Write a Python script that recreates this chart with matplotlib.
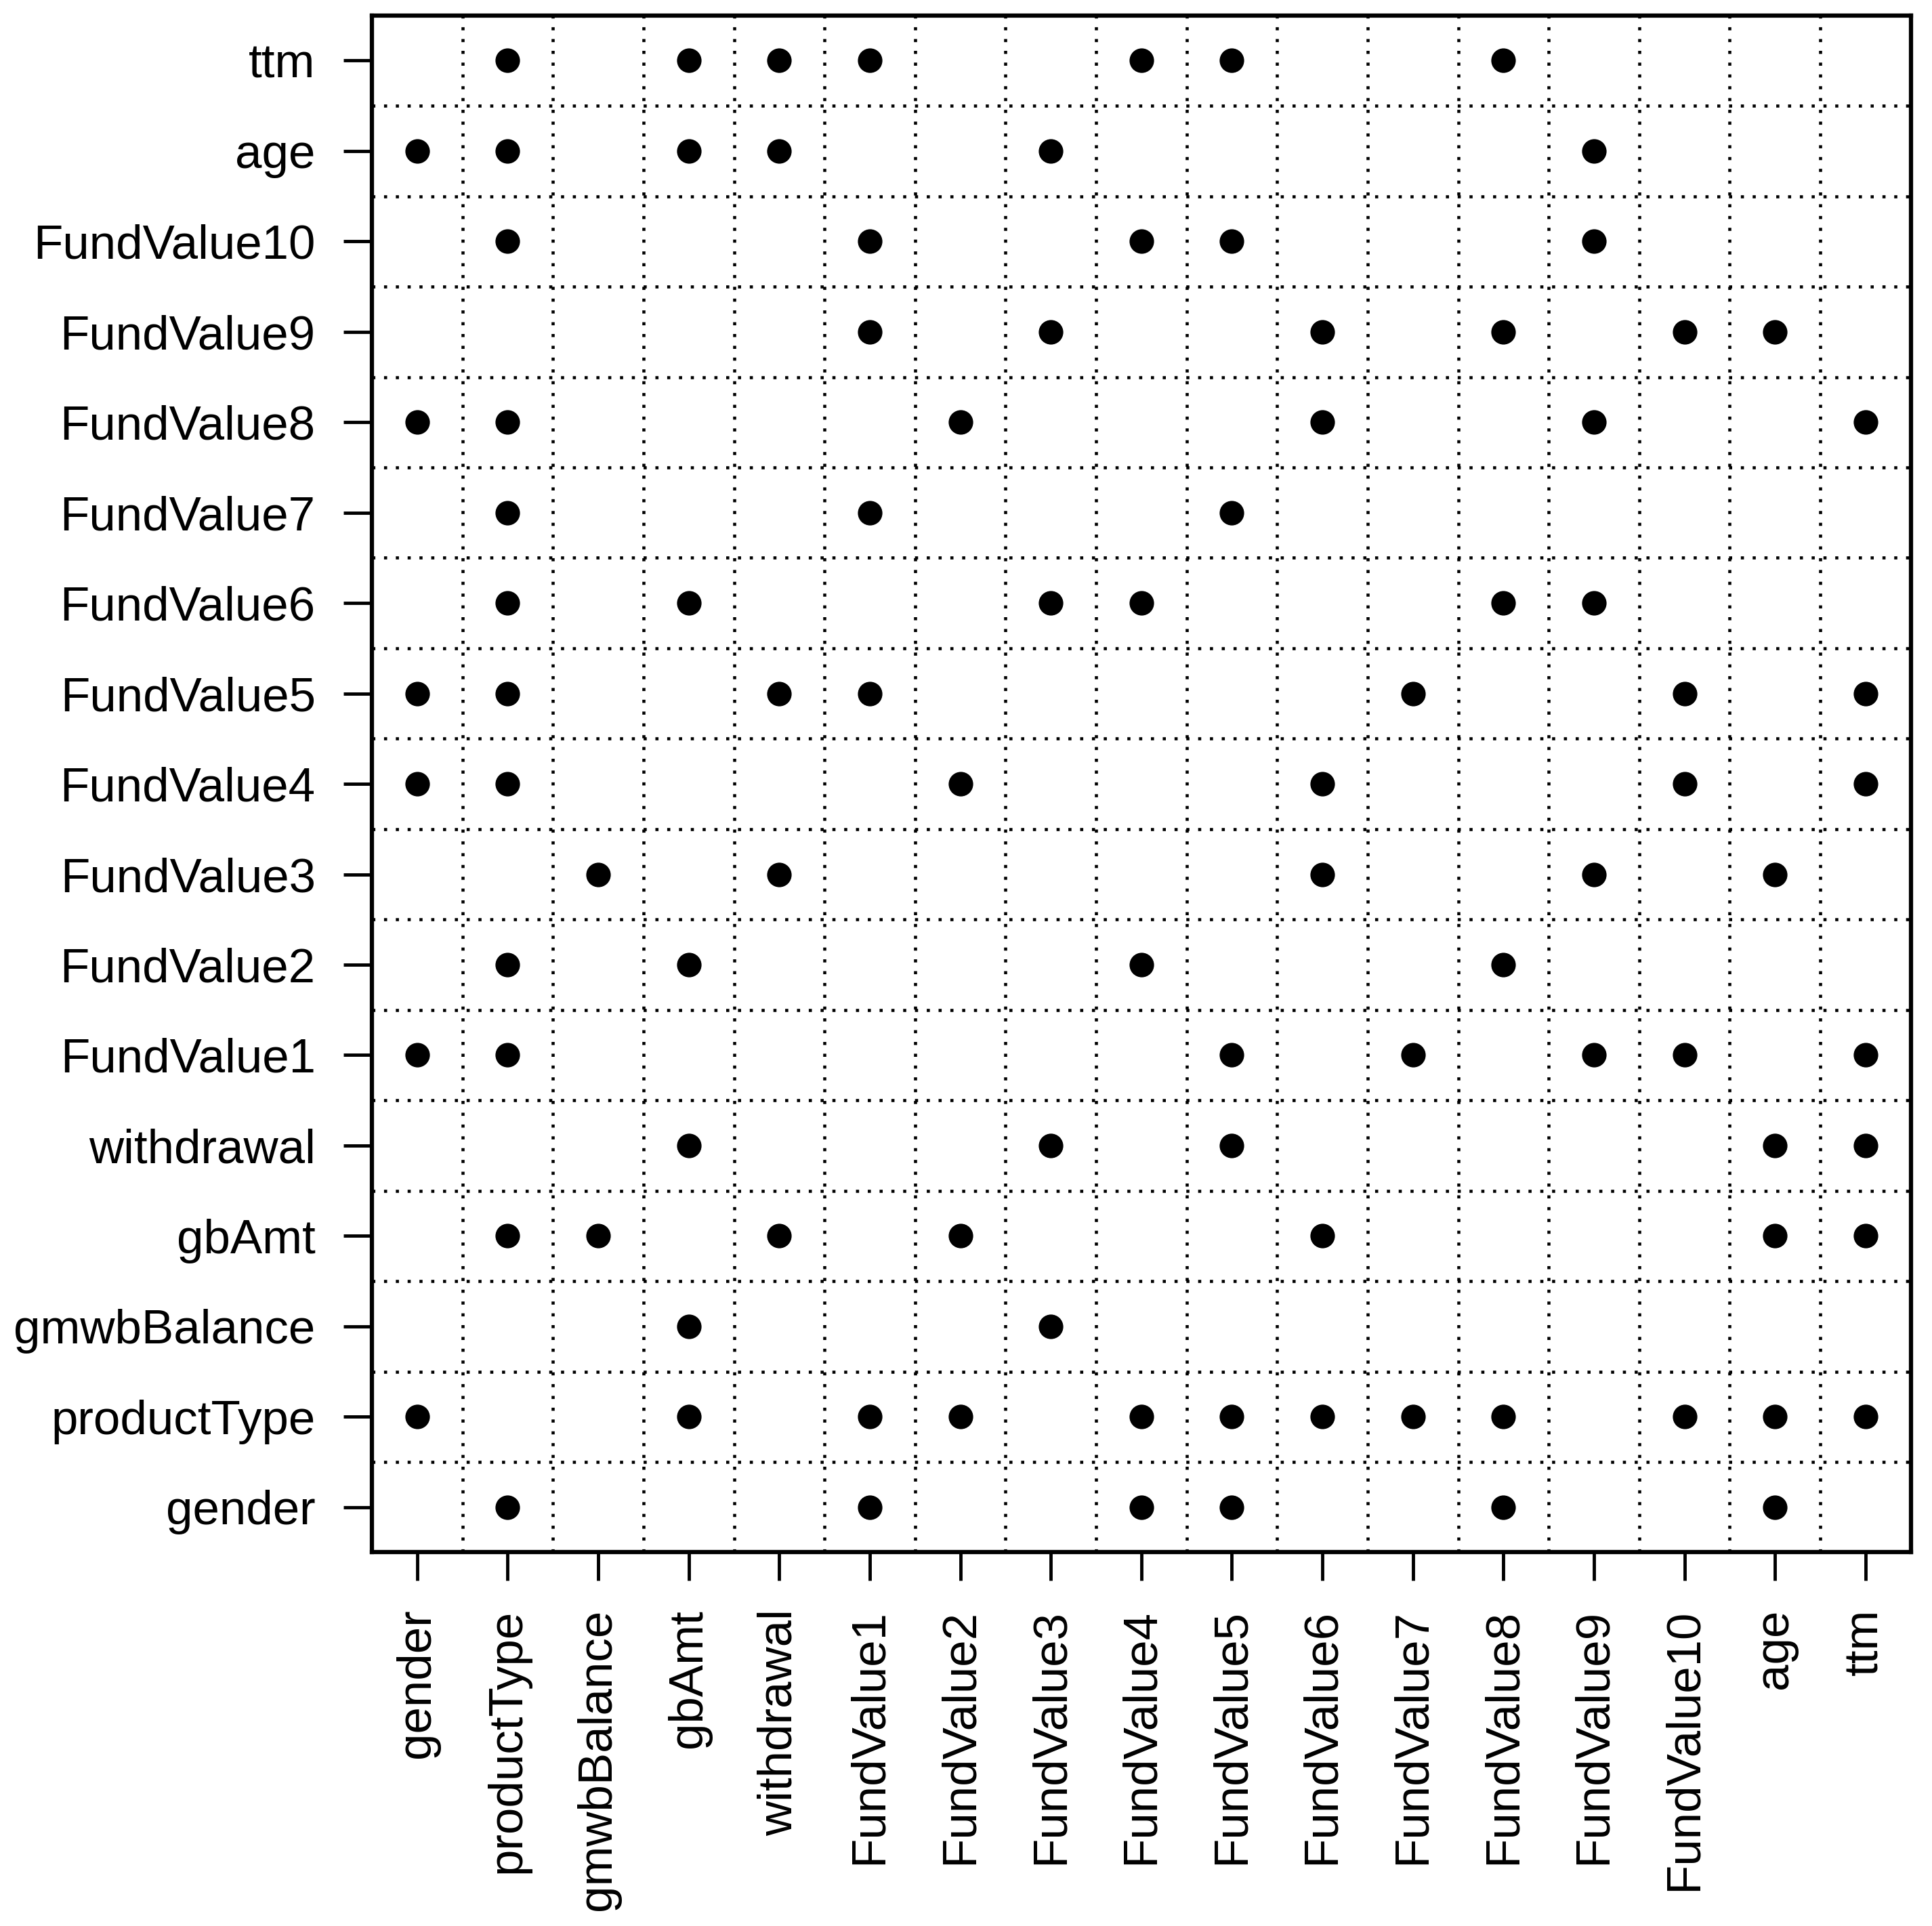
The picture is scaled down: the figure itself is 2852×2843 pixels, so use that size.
import matplotlib
matplotlib.use("Agg")
from matplotlib import pyplot as plt
import numpy as np

plt.rcParams['font.family'] = ['Liberation Sans', 'DejaVu Sans']

variables = ['gender', 'productType', 'gmwbBalance', 'gbAmt', 'withdrawal',
             'FundValue1', 'FundValue2', 'FundValue3', 'FundValue4', 'FundValue5',
             'FundValue6', 'FundValue7', 'FundValue8', 'FundValue9', 'FundValue10',
             'age', 'ttm']

# for each row variable, the column variables that carry a dot
links = {
    'gender': ['productType', 'FundValue1', 'FundValue4', 'FundValue5', 'FundValue8', 'age'],
    'productType': ['gender', 'gbAmt', 'FundValue1', 'FundValue2', 'FundValue4', 'FundValue5',
                    'FundValue6', 'FundValue7', 'FundValue8', 'FundValue10', 'age', 'ttm'],
    'gmwbBalance': ['gbAmt', 'FundValue3'],
    'gbAmt': ['productType', 'gmwbBalance', 'withdrawal', 'FundValue2', 'FundValue6', 'age', 'ttm'],
    'withdrawal': ['gbAmt', 'FundValue3', 'FundValue5', 'age', 'ttm'],
    'FundValue1': ['gender', 'productType', 'FundValue5', 'FundValue7', 'FundValue9',
                   'FundValue10', 'ttm'],
    'FundValue2': ['productType', 'gbAmt', 'FundValue4', 'FundValue8'],
    'FundValue3': ['gmwbBalance', 'withdrawal', 'FundValue6', 'FundValue9', 'age'],
    'FundValue4': ['gender', 'productType', 'FundValue2', 'FundValue6', 'FundValue10', 'ttm'],
    'FundValue5': ['gender', 'productType', 'withdrawal', 'FundValue1', 'FundValue7',
                   'FundValue10', 'ttm'],
    'FundValue6': ['productType', 'gbAmt', 'FundValue3', 'FundValue4', 'FundValue8', 'FundValue9'],
    'FundValue7': ['productType', 'FundValue1', 'FundValue5'],
    'FundValue8': ['gender', 'productType', 'FundValue2', 'FundValue6', 'FundValue9', 'ttm'],
    'FundValue9': ['FundValue1', 'FundValue3', 'FundValue6', 'FundValue8', 'FundValue10', 'age'],
    'FundValue10': ['productType', 'FundValue1', 'FundValue4', 'FundValue5', 'FundValue9'],
    'age': ['gender', 'productType', 'gbAmt', 'withdrawal', 'FundValue3', 'FundValue9'],
    'ttm': ['productType', 'gbAmt', 'withdrawal', 'FundValue1', 'FundValue4', 'FundValue5',
            'FundValue8'],
}

pos = {name: i + 1 for i, name in enumerate(variables)}
xs, ys = [], []
for row, cols in links.items():
    for c in cols:
        xs.append(pos[c])
        ys.append(pos[row])

fig = plt.figure(figsize=(28.52, 28.43), dpi=100)
ax = fig.add_axes([0.1925, 0.194, 0.7965, 0.798])

n = len(variables)
for k in np.arange(1.5, n, 1.0):
    ax.axvline(k, color='black', lw=3.3, linestyle=(0, (1, 2.8)), zorder=1)
    ax.axhline(k, color='black', lw=3.3, linestyle=(0, (1, 2.8)), zorder=1)

ax.scatter(xs, ys, s=680, color='black', zorder=3, linewidths=0)

ax.set_xlim(0.5, n + 0.5)
ax.set_ylim(0.5, n + 0.5)
ax.set_xticks(range(1, n + 1))
ax.set_yticks(range(1, n + 1))
ax.set_xticklabels(variables, rotation=90, fontsize=51)
ax.set_yticklabels(variables, fontsize=51)
ax.tick_params(length=30, width=3.5, pad=30)
for sp in ax.spines.values():
    sp.set_linewidth(4.5)

fig.savefig('out.png', dpi=100)
